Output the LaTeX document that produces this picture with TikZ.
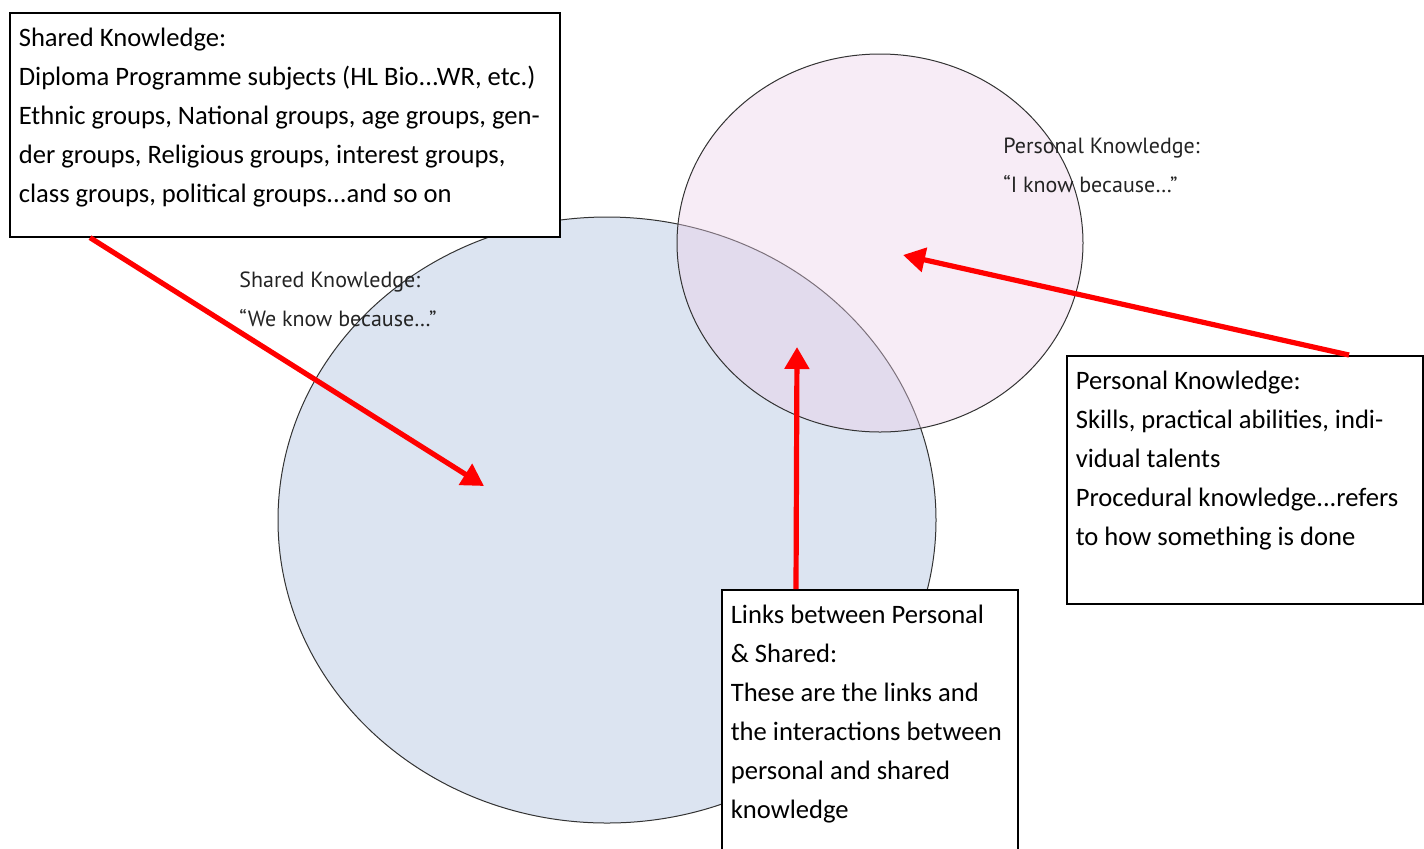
\documentclass[tikz,border=0pt]{standalone}
\usepackage{fontspec}
\setmainfont{Carlito}
\newfontfamily\labelfont{PT Sans}
\usetikzlibrary{shapes.geometric,arrows.meta}

\definecolor{sharedfill}{RGB}{220,228,241}
\definecolor{personalfill}{RGB}{235,207,232}
\definecolor{labelgray}{RGB}{35,35,35}

\begin{document}
\begin{tikzpicture}
    [x=0.5pt, y=-0.5pt,
     bubble/.style={ellipse, draw=black!80, line width=0.5pt, inner sep=0pt},
     circlelabel/.style={anchor=north west, inner sep=0pt, align=left, text=labelgray,
       font=\labelfont\fontsize{11}{19.5}\selectfont},
     textbox/.style={draw, line width=0.8pt, fill=white, anchor=north west,
       inner xsep=4.5pt, inner ysep=7.5pt, font=\fontsize{13.3}{19.5}\selectfont},
     pointer/.style={draw=red, line width=2.6pt, -{Triangle[length=11pt,width=12pt]}}]
  \useasboundingbox (0,0) rectangle (1424,848);

  % the two circles
  \node[bubble, fill=sharedfill, minimum width=329pt, minimum height=303pt] (shared) at (607,520) {};
  \node[bubble, fill=personalfill, fill opacity=0.4, minimum width=203pt, minimum height=189pt] (personal) at (880,243) {};

  \node[circlelabel] (sharedlabel) at (239,271) {Shared Knowledge:\\“We know because…”};
  \node[circlelabel] (personallabel) at (1003,138) {Personal Knowledge:\\“I know because…”};

  % text boxes
  \node[textbox] (sharedbox) at (9,12) {\parbox[t][97pt][t]{266pt}{Shared Knowledge:\\
    Diploma Programme subjects (HL Bio...WR, etc.)\\
    Ethnic groups, National groups, age groups, gen-\\
    der groups, Religious groups, interest groups,\\
    class groups, political groups...and so on}};
  \node[textbox] (personalbox) at (1066,355) {\parbox[t][109pt][t]{169pt}{Personal Knowledge:\\
    Skills, practical abilities, indi-\\
    vidual talents\\
    Procedural knowledge...refers\\
    to how something is done}};
  \node[textbox] (linksbox) at (721,589) {\parbox[t][122pt][t]{139pt}{Links between Personal\\
    \& Shared:\\
    These are the links and\\
    the interactions between\\
    personal and shared\\
    knowledge}};

  % arrows
  \coordinate (sharedtip) at (484,486);
  \coordinate (personaltip) at (903,255);
  \coordinate (linkstip) at (797,347);
  \draw[pointer] ([xshift=40.5pt]sharedbox.south west) -- (sharedtip);
  \draw[pointer] ([xshift=141.5pt]personalbox.north west) -- (personaltip);
  \draw[pointer] ([xshift=37.5pt]linksbox.north west) -- (linkstip);
\end{tikzpicture}
\end{document}
